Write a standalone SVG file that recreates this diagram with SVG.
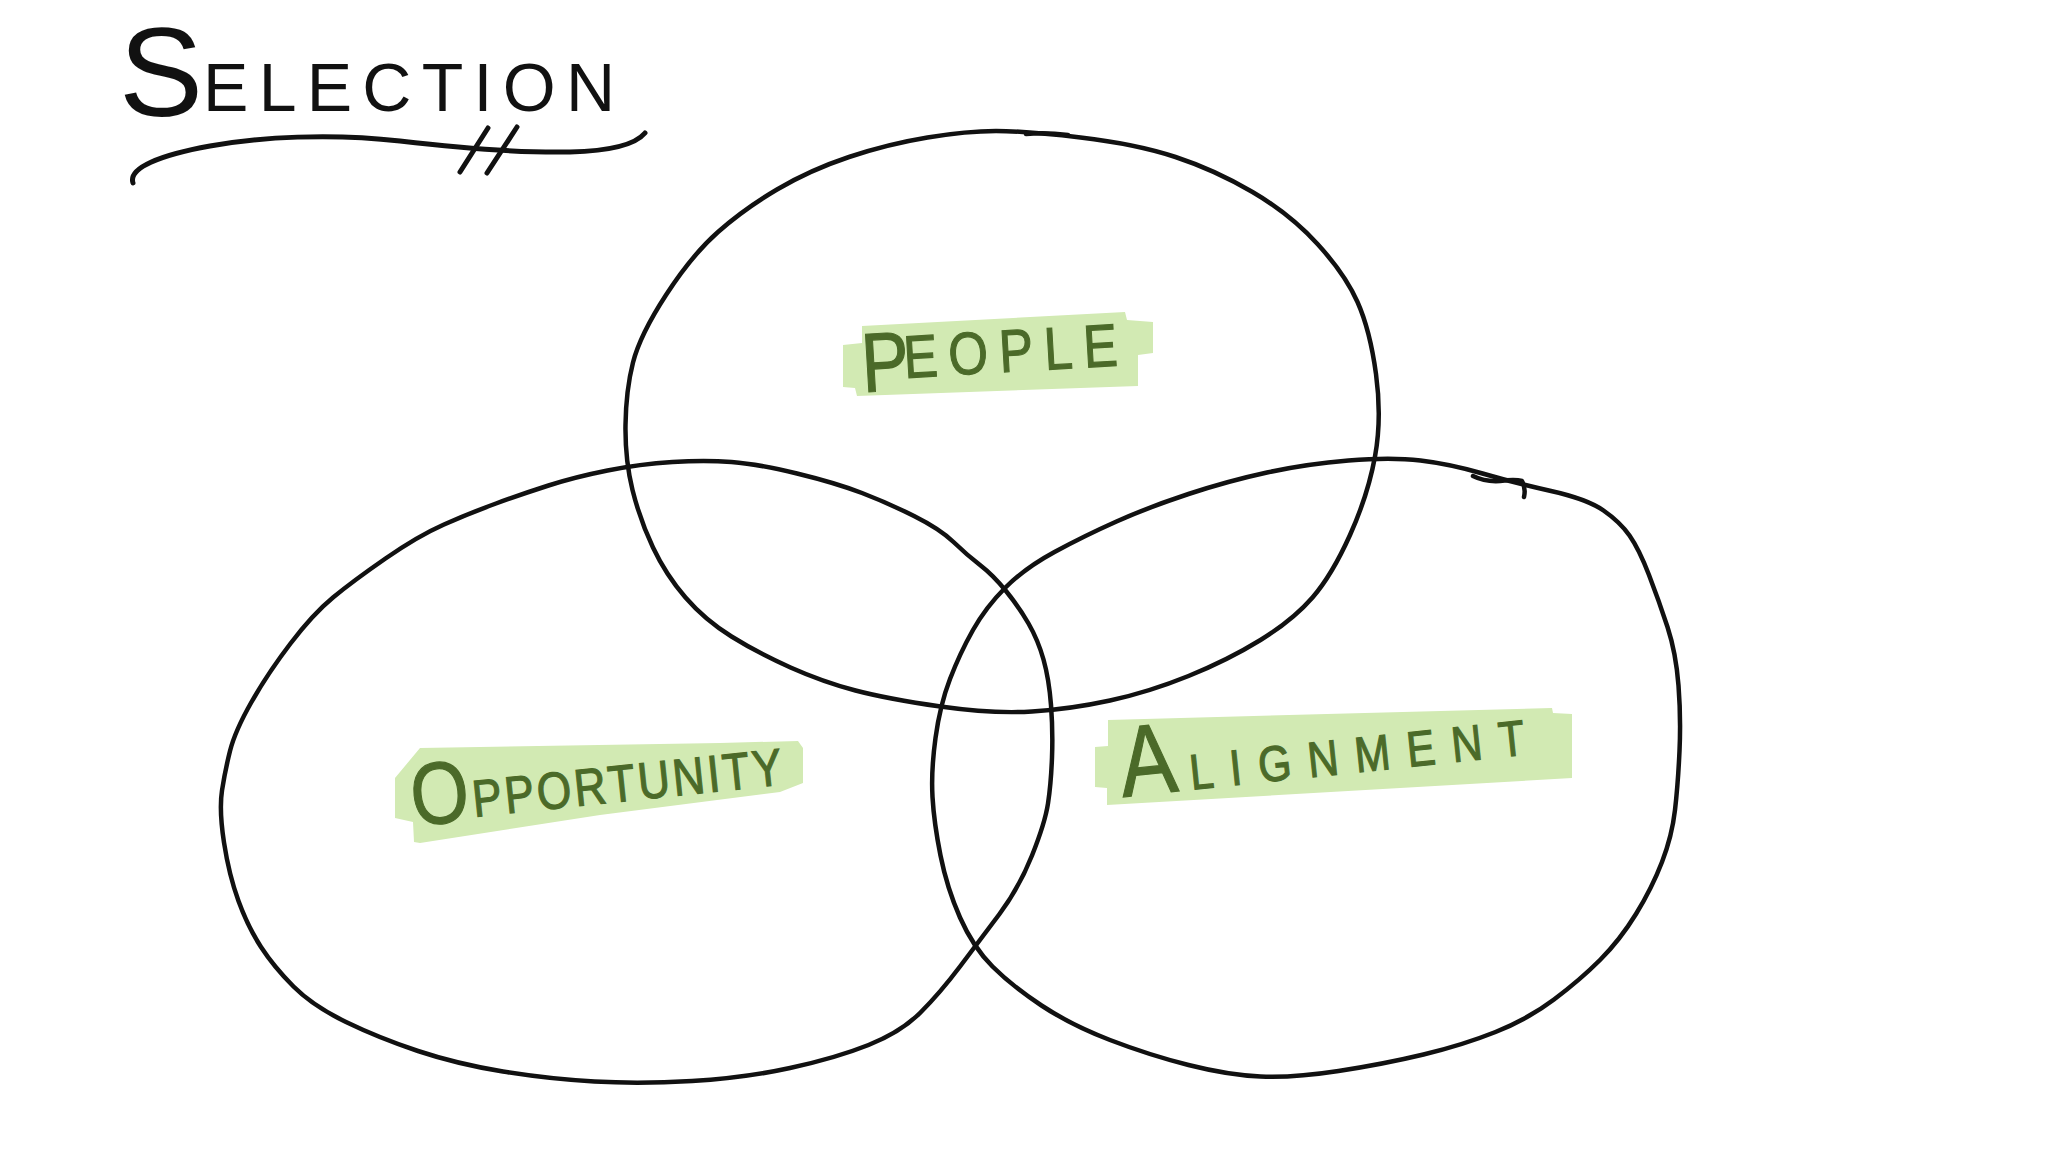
<svg xmlns="http://www.w3.org/2000/svg" width="2048" height="1152" viewBox="0 0 2048 1152">
<style>
.ring{fill:none;stroke:#111;stroke-width:4.5;stroke-linecap:round;stroke-linejoin:round}
.pen{fill:none;stroke:#111;stroke-width:5;stroke-linecap:round;stroke-linejoin:round}
.hl{fill:#d2eab3}
.lbl{font-family:"Liberation Sans",Arial,sans-serif;fill:#4b6a29;stroke:#4b6a29;stroke-width:1.2}
.ttl{font-family:"Liberation Sans",Arial,sans-serif;fill:#111}
</style>
<rect width="2048" height="1152" fill="#ffffff"/>
<g id="title">
<text class="ttl"><tspan x="119" y="116" font-size="126">S</tspan><tspan font-size="68" x="203" y="111" textLength="412" lengthAdjust="spacing">ELECTION</tspan></text>
<path class="pen" d="M133,183 C128,168 160,155 210,146 C260,137 330,133 400,141 C460,148 520,153 570,152 C610,151 635,145 645,133"/>
<path class="pen" d="M488,128 L460,172 M517,127 L487,173"/>
</g>
<g id="connectors"/>
<g id="node-people">
<polygon class="hl" points="862,326 1125,312 1127,320 1153,322 1153,353 1138,355 1138,386 857,396 855,388 843,387 843,345 862,343"/>
<text class="lbl" transform="translate(868 392) rotate(-3.3) scale(0.85 1)"><tspan x="-6" y="0" font-size="84">P</tspan><tspan x="44" y="-12" font-size="60" textLength="252" lengthAdjust="spacing">EOPLE</tspan></text>
<path class="ring" d="M 996,131 Q 1025,131 1080.5,137.5 Q 1136,144 1175.5,157 Q 1215,170 1252.5,192 Q 1290,214 1317.5,244 Q 1345,274 1357.5,302 Q 1370,330 1376,374 Q 1382,418 1375,456.5 Q 1368,495 1350,535 Q 1332,575 1312.5,597.5 Q 1293,620 1260.5,640 Q 1228,660 1188.5,676 Q 1149,692 1110,700.5 Q 1071,709 1032,711.5 Q 993,714 940.5,706.5 Q 888,699 855.5,690.5 Q 823,682 790.5,667.5 Q 758,653 731.5,636.5 Q 705,620 685.5,597.5 Q 666,575 653,547.5 Q 640,520 632.5,490 Q 625,460 625.5,425 Q 626,390 633,362.5 Q 640,335 666,295 Q 692,255 718,232 Q 744,209 777,189.5 Q 810,170 849,157 Q 888,144 927.5,137.5 Q 967,131 996,131 Z"/>
<path class="ring" d="M1026,134 Q1045,132 1068,135"/>
</g>
<g id="node-opportunity">
<polygon class="hl" points="420,748 720,743 798,741 803,748 803,783 780,792 600,815 420,843 414,842 413,822 395,818 395,778"/>
<text class="lbl" transform="translate(417 826) rotate(-6) scale(0.85 1)"><tspan x="-4" y="0" font-size="88">O</tspan><tspan x="68" y="-3" font-size="52" textLength="366" lengthAdjust="spacing">PPORTUNITY</tspan></text>
<path class="ring" d="M 672.5,462 Q 705,460 731.5,462 Q 758,464 797,473.5 Q 836,483 862,493 Q 888,503 914,516 Q 940,529 953.5,542 Q 967,555 980,565 Q 993,575 1006,591 Q 1019,607 1028.5,623.5 Q 1038,640 1043.5,659.5 Q 1049,679 1051,705 Q 1053,731 1052,757.5 Q 1051,784 1048,803.5 Q 1045,823 1032,855.5 Q 1019,888 999.5,914 Q 980,940 960,966.5 Q 940,993 920.5,1012.5 Q 901,1032 868.5,1045 Q 836,1058 790,1068 Q 744,1078 692,1081 Q 640,1084 594.5,1081.5 Q 549,1079 503,1071.5 Q 457,1064 418,1051 Q 379,1038 346,1022 Q 313,1006 293.5,986.5 Q 274,967 261,947 Q 248,927 238.5,901 Q 229,875 224,842.5 Q 219,810 222,790.5 Q 225,771 230,751 Q 235,731 251.5,702 Q 268,673 290.5,643.5 Q 313,614 333,597.5 Q 353,581 385.5,558.5 Q 418,536 444,524.5 Q 470,513 496,503.5 Q 522,494 548.5,485.5 Q 575,477 607.5,470.5 Q 640,464 672.5,462 Z"/>
</g>
<g id="node-alignment">
<polygon class="hl" points="1108,720 1552,708 1553,713 1572,714 1572,778 1107,805 1107,788 1095,787 1095,747 1108,746"/>
<text class="lbl" transform="translate(1123 797) rotate(-6) scale(0.85 1)"><tspan x="0" y="0" font-size="100">A</tspan><tspan x="81" y="0" font-size="50" textLength="396" lengthAdjust="spacing">LIGNMENT</tspan></text>
<path class="ring" d="M 1348.5,460.5 Q 1391,457 1420.5,460.5 Q 1450,464 1482.5,473.5 Q 1515,483 1551,491 Q 1587,499 1603.5,510.5 Q 1620,522 1629.5,535.5 Q 1639,549 1649,575 Q 1659,601 1667.5,627 Q 1676,653 1678.5,685.5 Q 1681,718 1679.5,751 Q 1678,784 1675,810 Q 1672,836 1662,862 Q 1652,888 1636,914 Q 1620,940 1600,960 Q 1580,980 1554,999.5 Q 1528,1019 1495.5,1032 Q 1463,1045 1423.5,1054.5 Q 1384,1064 1338.5,1071 Q 1293,1078 1260.5,1076.5 Q 1228,1075 1188.5,1065 Q 1149,1055 1110,1040 Q 1071,1025 1041.5,1005.5 Q 1012,986 992.5,966.5 Q 973,947 960,917.5 Q 947,888 940.5,855.5 Q 934,823 932.5,797 Q 931,771 935.5,738 Q 940,705 950,679 Q 960,653 973,630 Q 986,607 1005.5,587.5 Q 1025,568 1054.5,552 Q 1084,536 1116.5,521.5 Q 1149,507 1188.5,494 Q 1228,481 1267,472.5 Q 1306,464 1348.5,460.5 Z"/>
<path class="ring" d="M1473,476 Q1485,482 1500,481 Q1515,479 1522,481 Q1526,488 1524,497"/>
</g>
</svg>
